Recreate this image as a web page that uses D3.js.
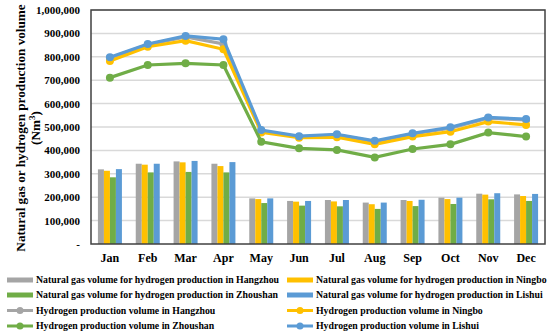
<!DOCTYPE html>
<html>
<head>
<meta charset="utf-8">
<script src="https://cdn.jsdelivr.net/npm/d3@7"></script>
<style>
  body { margin: 0; background: #fff; }
  text { font-family: "Liberation Serif", "Times New Roman", serif; font-weight: bold; fill: #000; }
</style>
</head>
<body>
<div id="chart"></div>
<script>
(function() {

    var width = 550,
    height = 333;

    var months = ["Jan", "Feb", "Mar", "Apr", "May", "Jun", "Jul", "Aug", "Sep", "Oct", "Nov", "Dec"]
    var cities = ["Hangzhou", "Ningbo", "Zhoushan", "Lishui"]
    var yTicks = [0, 100000, 200000, 300000, 400000, 500000, 600000, 700000, 800000, 900000, 1000000]

    // natural gas volume (bars)
    var gasHangzhou = [319000, 343000, 353000, 343000, 195000, 184000, 188000, 177000, 188000, 198000, 215000, 212000]
    var gasNingbo   = [313000, 339000, 349000, 333000, 192000, 181000, 182000, 170000, 184000, 192000, 211000, 205000]
    var gasZhoushan = [285000, 306000, 308000, 306000, 175000, 164000, 161000, 150000, 162000, 171000, 191000, 184000]
    var gasLishui   = [320000, 343000, 355000, 350000, 195000, 184000, 188000, 177000, 189000, 198000, 217000, 214000]

    // hydrogen production volume (lines)
    var h2Hangzhou = [795000, 852000, 885000, 855000, 484000, 458000, 466000, 438000, 470000, 495000, 538000, 530000]
    var h2Ningbo   = [782000, 843000, 869000, 832000, 477000, 454000, 456000, 426000, 459000, 480000, 523000, 509000]
    var h2Zhoushan = [711000, 765000, 772000, 765000, 437000, 409000, 402000, 370000, 406000, 426000, 476000, 459000]
    var h2Lishui   = [798000, 855000, 889000, 875000, 487000, 461000, 469000, 441000, 473000, 499000, 541000, 534000]

    var colors = ["#a5a5a5", "#ffc000", "#70ad47", "#5b9bd5"]

    var gasSeries = [gasHangzhou, gasNingbo, gasZhoushan, gasLishui]
    var h2Series = [h2Hangzhou, h2Ningbo, h2Zhoushan, h2Lishui]

    var left = 91, right = 545, top = 10, bottom = 244

    var svg = d3.select("#chart")
    .append("svg")
    .attr("height", height)
    .attr("width", width)

    var x = d3.scaleBand().domain(months).range([left, right])
    var y = d3.scaleLinear().domain([0, 1000000]).range([bottom, top])
    var groupW = 24
    var xInner = d3.scaleBand().domain(d3.range(4)).range([0, groupW])

    // gridlines
    svg.append("g")
    .selectAll("line")
    .data(yTicks.slice(1))
    .enter().append("line")
    .attr("x1", left)
    .attr("x2", right)
    .attr("y1", function(d){ return y(d) })
    .attr("y2", function(d){ return y(d) })
    .attr("stroke", "#d9d9d9")
    .attr("stroke-width", 1.5)

    // bars
    gasSeries.forEach(function(vals, i){
        svg.append("g")
        .selectAll("rect")
        .data(vals)
        .enter().append("rect")
        .attr("x", function(d, j){ return x(months[j]) + (x.bandwidth() - groupW) / 2 + xInner(i) })
        .attr("width", xInner.bandwidth())
        .attr("y", function(d){ return y(d) })
        .attr("height", function(d){ return y(0) - y(d) })
        .attr("fill", colors[i])
    })

    // lines
    var line = d3.line()
    .x(function(d, j){ return x(months[j]) + x.bandwidth() / 2 })
    .y(function(d){ return y(d) })

    h2Series.forEach(function(vals, i){
        var g = svg.append("g")
        g.append("path")
        .datum(vals)
        .attr("d", line)
        .attr("fill", "none")
        .attr("stroke", colors[i])
        .attr("stroke-width", 3.2)
        g.selectAll("circle")
        .data(vals)
        .enter().append("circle")
        .attr("cx", function(d, j){ return x(months[j]) + x.bandwidth() / 2 })
        .attr("cy", function(d){ return y(d) })
        .attr("r", 4)
        .attr("fill", colors[i])
    })

    // plot frame
    svg.append("rect")
    .attr("x", left)
    .attr("y", top)
    .attr("width", right - left)
    .attr("height", bottom - top)
    .attr("fill", "none")
    .attr("stroke", "#404040")
    .attr("stroke-width", 1.5)

    // y axis labels
    var yAxis = d3.axisLeft(y)
    .tickValues(yTicks)
    .tickSize(0)
    .tickPadding(11)
    .tickFormat(function(d){ return d === 0 ? "-" : d3.format(",")(d) })

    var ya = svg.append("g")
    .attr("transform", "translate(" + left + ",0)")
    .call(yAxis)
    ya.select(".domain").remove()
    ya.selectAll("text")
    .attr("font-size", 11)
    .attr("font-family", "Liberation Serif")
    .attr("font-weight", "bold")
    .attr("fill", "#000")

    // x axis labels
    var xAxis = d3.axisBottom(x).tickSize(0).tickPadding(9)
    var xa = svg.append("g")
    .attr("transform", "translate(0," + bottom + ")")
    .call(xAxis)
    xa.select(".domain").remove()
    xa.selectAll("text")
    .attr("font-size", 12)
    .attr("font-family", "Liberation Serif")
    .attr("font-weight", "bold")
    .attr("fill", "#000")

    // y title
    var title = svg.append("text")
    .attr("transform", "translate(25,128) rotate(-90)")
    .attr("text-anchor", "middle")
    .attr("font-size", 13.2)
    title.append("tspan").attr("x", 0).attr("dy", 0).text("Natural gas or hydrogen production volume")
    var t2 = title.append("tspan").attr("x", 0).attr("dy", 15).text("(Nm")
    t2.append("tspan").attr("dy", -5).attr("font-size", 9).text("3")
    title.append("tspan").attr("dy", 5).text(")")

    // legend
    var legendItems = []
    cities.forEach(function(c, i){
        legendItems.push({ label: "Natural gas volume for hydrogen production in " + c, color: colors[i], type: "bar" })
    })
    cities.forEach(function(c, i){
        legendItems.push({ label: "Hydrogen production volume in " + c, color: colors[i], type: "line" })
    })

    var legendX = [7, 287]
    var legendY = [280, 295, 310.5, 326]

    var items = svg.append("g")
    .selectAll("g")
    .data(legendItems)
    .enter().append("g")
    .attr("transform", function(d, i){
        return "translate(" + legendX[i % 2] + "," + legendY[Math.floor(i / 2)] + ")"
    })

    items.append("line")
    .attr("x1", 0)
    .attr("x2", 26)
    .attr("y1", 0)
    .attr("y2", 0)
    .attr("stroke", function(d){ return d.color })
    .attr("stroke-width", function(d){ return d.type === "bar" ? 5 : 3 })

    items.filter(function(d){ return d.type === "line" })
    .append("circle")
    .attr("cx", 13)
    .attr("cy", 0)
    .attr("r", 3.5)
    .attr("fill", function(d){ return d.color })

    items.append("text")
    .attr("x", 29)
    .attr("y", 3.4)
    .attr("font-size", 9.8)
    .text(function(d){ return d.label })

})();
</script>
</body>
</html>
